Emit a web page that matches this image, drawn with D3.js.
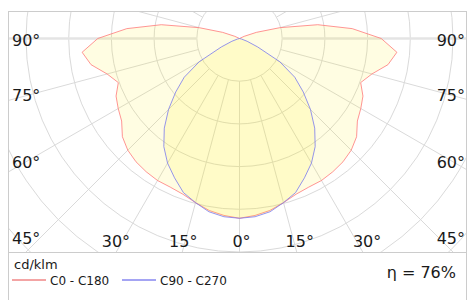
<!DOCTYPE html>
<html>
<head>
<meta charset="utf-8">
<script src="https://cdn.jsdelivr.net/npm/d3@7"></script>
<style>
  body { margin: 0; background: #fff; }
  text { font-family: "DejaVu Sans", sans-serif; fill: #1a1a1a; }
</style>
</head>
<body>
<script>
// Chart size
var svgWidth = 468;
var svgHeight = 300;

// Frame of the polar area
var frame = { left: 8, top: 11, right: 466, bottom: 252 };

// Polar origin (lamp position)
var cx = 239.5;
var cy = 38.5;

// Data: gamma angles (deg) and intensities in cd/klm
var gammaAngles = [0, 5, 10, 15, 20, 25, 30, 35, 40, 45, 50, 55, 60, 65, 70, 75, 80, 85, 90,
  95, 100, 105, 110, 115, 120, 125, 130, 135, 140, 145, 150, 155, 160, 165, 170, 175, 180];
var c0c180 = [421, 416, 409, 398, 388, 384, 384, 381, 377, 370, 358, 337, 328, 319, 302, 321, 353, 370, 332,
  265, 186, 98, 42, 12, 0, 0, 0, 0, 0, 0, 0, 0, 0, 0, 0, 0, 0];
var c90c270 = [421, 419, 412, 398, 384, 360, 337, 309, 274, 235, 195, 158, 109, 47, 19, 5, 0, 0, 0,
  0, 0, 0, 0, 0, 0, 0, 0, 0, 0, 0, 0, 0, 0, 0, 0, 0, 0];

// Grid rings (cd/klm) and angle labels
var ringValues = [100, 200, 300, 400, 500, 600, 700, 800];
var spokeAngles = d3.range(0, 360, 15);
var labelAngles = [90, 75, 60, 45, 30, 15, 0, 15, 30, 45, 60, 75, 90];
var labelSides = [-1, -1, -1, -1, -1, -1, 0, 1, 1, 1, 1, 1, 1];
var efficiency = "η = 76%";
var legendNames = ["C0 - C180", "C90 - C270"];
var legendColors = ["#e84a4a", "#4a4ae8"];

var svg = d3.select("body")
  .append("svg")
  .attr("width", svgWidth)
  .attr("height", svgHeight);

var rScale = d3.scaleLinear().domain([0, 100]).range([0, 42.7]);
var rad = Math.PI / 180;

svg.append("clipPath")
  .attr("id", "clip")
  .append("rect")
  .attr("x", frame.left)
  .attr("y", frame.top)
  .attr("width", frame.right - frame.left)
  .attr("height", frame.bottom - frame.top);

var plot = svg.append("g").attr("clip-path", "url(#clip)");
var center = plot.append("g").attr("transform", `translate(${cx},${cy})`);

// rings
center.selectAll(".ring")
  .data(ringValues)
  .enter()
  .append("circle")
  .attr("r", d => rScale(d))
  .attr("fill", "none")
  .attr("stroke", "#dadada")
  .attr("stroke-width", 1);

// spokes, starting at the first ring
center.selectAll(".spoke")
  .data(spokeAngles)
  .enter()
  .append("line")
  .attr("x1", d => rScale(ringValues[0]) * Math.sin(d * rad))
  .attr("y1", d => rScale(ringValues[0]) * Math.cos(d * rad))
  .attr("x2", d => rScale(1000) * Math.sin(d * rad))
  .attr("y2", d => rScale(1000) * Math.cos(d * rad))
  .attr("stroke", d => (d % 180 === 90) ? "#e4e4e4" : "#dadada")
  .attr("stroke-width", d => (d % 180 === 90) ? 2.5 : 1);

// build full closed curve: one half on the left, mirrored half on the right
function fullCurve(values) {
  var pts = [];
  gammaAngles.forEach(function(g, i) {
    pts.push({ theta: Math.PI + g * rad, v: values[i] });
  });
  for (var i = gammaAngles.length - 2; i > 0; i--) {
    pts.push({ theta: Math.PI - gammaAngles[i] * rad, v: values[i] });
  }
  return pts;
}

var radialLine = d3.lineRadial()
  .angle(d => d.theta)
  .radius(d => rScale(d.v))
  .curve(d3.curveLinearClosed);

var curves = [
  { values: c0c180, stroke: "#ff7a7a" },
  { values: c90c270, stroke: "#7a7aee" }
];

curves.forEach(function(c) {
  center.append("path")
    .attr("d", radialLine(fullCurve(c.values)))
    .attr("fill", "rgb(255,240,20)")
    .attr("fill-opacity", 0.12)
    .attr("stroke", c.stroke)
    .attr("stroke-width", 0.8);
});

// frame
svg.append("rect")
  .attr("x", frame.left + 0.5)
  .attr("y", frame.top + 0.5)
  .attr("width", frame.right - frame.left)
  .attr("height", svgHeight + 10)
  .attr("fill", "none")
  .attr("stroke", "#cccccc");

svg.append("line")
  .attr("x1", frame.left)
  .attr("x2", frame.right)
  .attr("y1", frame.bottom + 0.5)
  .attr("y2", frame.bottom + 0.5)
  .attr("stroke", "#cccccc");

// angle labels placed where each ray leaves an inner box
var box = { left: 26, right: 453, bottom: 256, textY: 241 };
labelAngles.forEach(function(g, i) {
  var s = labelSides[i];
  var sx = Math.sin(g * rad), cyv = Math.cos(g * rad);
  var tSide = sx > 0 ? (s < 0 ? cx - box.left : box.right - cx) / sx : Infinity;
  var tBottom = cyv > 0.001 ? (box.bottom - cy) / cyv : Infinity;
  var x, y, anchor;
  if (tSide <= tBottom) {
    x = s < 0 ? 12 : 465;
    y = cy + tSide * cyv;
    anchor = s < 0 ? "start" : "end";
  } else {
    x = cx + s * tBottom * sx + 2;
    y = box.textY;
    anchor = "middle";
  }
  if (g === 45) {
    x = s < 0 ? 12 : 465;
    y = box.textY - 3;
    anchor = s < 0 ? "start" : "end";
  }
  if (g === 90) y += 2;
  svg.append("text")
    .attr("x", x)
    .attr("y", y)
    .attr("dy", "0.36em")
    .attr("text-anchor", anchor)
    .style("font-size", "16px")
    .text(g + "°");
});

// legend
svg.append("text")
  .attr("x", 14)
  .attr("y", 269)
  .style("font-size", "13px")
  .text("cd/klm");

var legend = svg.selectAll(".legend")
  .data(legendNames)
  .enter()
  .append("g")
  .attr("transform", (d, i) => `translate(${12 + i * 110}, 280)`);

legend.append("line")
  .attr("x1", 0)
  .attr("x2", 34)
  .attr("stroke", (d, i) => legendColors[i])
  .attr("stroke-width", 1);

legend.append("text")
  .attr("x", 38)
  .attr("y", 4.5)
  .style("font-size", "12px")
  .text(d => d);

svg.append("text")
  .attr("x", 456)
  .attr("y", 277.5)
  .attr("text-anchor", "end")
  .style("font-size", "16px")
  .text(efficiency);
</script>
</body>
</html>
